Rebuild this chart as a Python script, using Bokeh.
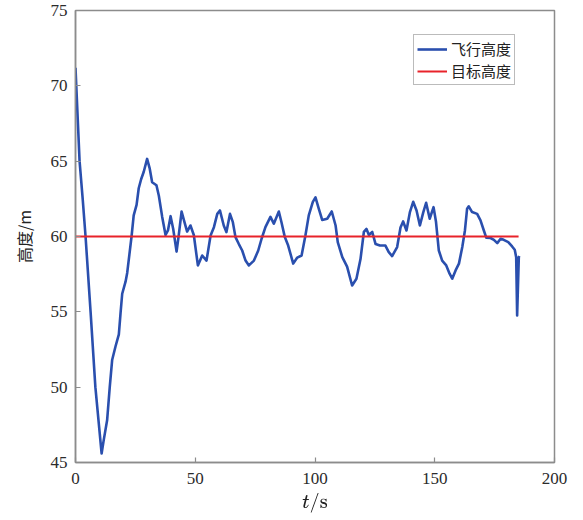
from bokeh.plotting import figure
from bokeh.models import Range1d, FixedTicker, Legend, LegendItem
from bokeh.embed import file_html
from bokeh.resources import INLINE

# flight altitude samples (time in s, altitude in m)
t = [0, 1.7, 3.0, 4.2, 6.3, 8.3, 10.9, 11.8, 13.2, 14.3, 15.3, 16.7, 18.1, 18.8,
     19.5, 20.9, 21.6, 23.4, 24.3, 25.5, 26.4, 27.4, 28.5, 29.9, 31.0, 32.0, 33.8,
     34.8, 36.2, 37.6, 38.6, 39.7, 40.8, 42.2, 43.1, 44.3, 45.5, 46.6, 48.0, 49.4,
     51.1, 52.9, 54.7, 56.4, 57.8, 59.2, 60.3, 61.9, 63.0, 64.5, 65.7, 66.8, 68.2,
     69.6, 71.0, 72.4, 74.5, 76.3, 77.7, 79.3, 81.4, 82.8, 84.9, 86.0, 87.4, 88.8,
     90.9, 92.6, 94.4, 96.0, 97.4, 99.1, 100.2, 101.6, 103.0, 105.1, 107.0, 108.6,
     109.5, 111.4, 113.4, 115.5, 117.3, 119.0, 120.4, 121.5, 122.5, 123.9, 125.3,
     127.1, 129.4, 130.8, 132.2, 134.3, 135.7, 136.8, 138.2, 139.6, 141.0, 142.4,
     143.8, 145.2, 146.4, 147.9, 149.5, 150.5, 151.7, 153.1, 154.8, 156.2, 157.3,
     158.7, 160.1, 161.5, 162.6, 163.5, 164.2, 165.6, 167.7, 169.1, 170.5, 171.5,
     173.3, 174.7, 176.1, 177.5, 178.8, 180.7, 182.3, 183.4, 184.0, 184.4, 185.1,
     185.3]
altitude = [71.2, 65.0, 62.5, 60.0, 55.0, 50.0, 45.6, 46.5, 47.8, 50.0, 51.8,
            52.7, 53.5, 54.9, 56.2, 57.0, 57.6, 60.0, 61.4, 62.1, 63.2, 63.8, 64.3,
            65.15, 64.5, 63.6, 63.4, 62.7, 61.3, 60.1, 60.4, 61.35, 60.5, 59.0,
            60.07, 61.66, 60.95, 60.33, 60.73, 60.1, 58.08, 58.74, 58.4, 60.07,
            60.62, 61.5, 61.73, 60.73, 60.29, 61.5, 60.95, 59.96, 59.5, 59.07, 58.4,
            58.08, 58.4, 59.07, 59.85, 60.62, 61.3, 60.85, 61.66, 60.95, 59.96, 59.4,
            58.2, 58.6, 58.74, 60.07, 61.4, 62.3, 62.6, 61.84, 61.1, 61.18, 61.66,
            60.73, 59.63, 58.63, 58.0, 56.75, 57.2, 58.5, 60.3, 60.5, 60.1, 60.3,
            59.5, 59.4, 59.4, 58.96, 58.7, 59.3, 60.6, 61.0, 60.4, 61.6, 62.3, 61.73,
            60.73, 61.6, 62.24, 61.18, 61.95, 61.0, 59.07, 58.4, 58.08, 57.53, 57.2,
            57.75, 58.2, 59.3, 60.4, 61.84, 62.0, 61.62, 61.5, 61.07, 60.4, 59.92,
            59.9, 59.78, 59.56, 59.85, 59.78, 59.63, 59.34, 59.12, 58.63, 54.76,
            58.63, 58.7]

# target altitude
target_t = [0, 185]
target_alt = [60, 60]

x_ticks = [0, 50, 100, 150, 200]
y_ticks = [45, 50, 55, 60, 65, 70, 75]

p = figure(width=583, height=520, output_backend="svg", toolbar_location=None,
           x_range=Range1d(0, 200), y_range=Range1d(45, 75),
           min_border_left=75, min_border_right=29, min_border_top=10,
           min_border_bottom=58)

p.background_fill_color = "white"
p.border_fill_color = "white"
p.grid.visible = False
p.outline_line_color = "#8c8c8c"
p.outline_line_width = 1.5

serif = "serif"
for ax in (p.xaxis[0], p.yaxis[0]):
    ax.axis_line_color = "#8c8c8c"
    ax.axis_line_width = 1.5
    ax.major_tick_in = 5
    ax.major_tick_out = 0
    ax.major_tick_line_color = "#8c8c8c"
    ax.major_tick_line_width = 1.2
    ax.minor_tick_line_color = None
    ax.major_label_text_font = serif
    ax.major_label_text_font_size = "17px"
    ax.major_label_text_color = "#2b2b2b"

p.xaxis.ticker = FixedTicker(ticks=x_ticks)
p.yaxis.ticker = FixedTicker(ticks=y_ticks)
p.xaxis.major_label_standoff = 10
p.yaxis.major_label_standoff = 8

p.yaxis.axis_label = "高度/m"
p.yaxis.axis_label_text_font = "Noto Sans CJK SC"
p.yaxis.axis_label_text_font_style = "normal"
p.yaxis.axis_label_text_font_size = "16px"
p.yaxis.axis_label_text_color = "#222222"
p.yaxis.axis_label_standoff = 12

p.xaxis.axis_label = r"$$t/\mathrm{s}$$"
p.xaxis.axis_label_text_font_size = "17px"
p.xaxis.axis_label_text_color = "#222222"
p.xaxis.axis_label_standoff = 6

r_fly = p.line(t, altitude, line_color="#2a4fae", line_width=2.6,
               line_join="round")
r_tgt = p.line(target_t, target_alt, line_color="#e8232a", line_width=2)

legend = Legend(items=[LegendItem(label="飞行高度", renderers=[r_fly]),
                       LegendItem(label="目标高度", renderers=[r_tgt])],
                location=(338, 377))
legend.label_text_font = "Noto Sans CJK SC"
legend.label_text_font_size = "15px"
legend.label_text_color = "#222222"
legend.glyph_width = 30
legend.glyph_height = 18
legend.label_height = 18
legend.label_standoff = 4
legend.spacing = 1
legend.padding = 3
legend.margin = 0
legend.border_line_color = "#777777"
legend.border_line_width = 1
legend.background_fill_alpha = 1
p.add_layout(legend)

open("out.html", "w").write(file_html(p, INLINE))
